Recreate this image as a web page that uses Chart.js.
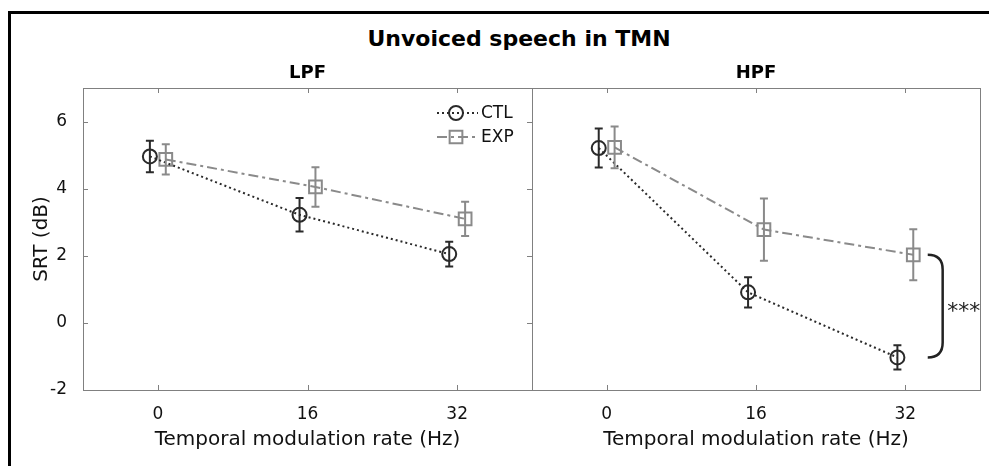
<!DOCTYPE html>
<html>
<head>
<meta charset="utf-8">
<script src="https://cdn.jsdelivr.net/npm/chart.js@4.4.0/dist/chart.umd.min.js"></script>
<style>
  body { margin: 0; background: #fff; }
  #fig { position: relative; width: 989px; height: 466px; overflow: hidden; font-family: "DejaVu Sans", sans-serif; }
  #frame { position: absolute; left: 8px; top: 11px; width: 1000px; height: 500px; border-top: 3px solid #000; border-left: 3px solid #000; }
  #title { position: absolute; left: 0; width: 1038px; top: 28px; line-height: 22px; text-align: center; font-weight: bold; font-size: 22px; color: #000; }
  canvas { position: absolute; top: 0; }
</style>
</head>
<body>
<div id="fig">
  <div id="frame"></div>
  <div id="title">Unvoiced speech in TMN</div>
  <canvas id="lpf" width="540" height="466" style="left:0"></canvas>
  <canvas id="hpf" width="489" height="466" style="left:500px"></canvas>
</div>
<script>
// modulation rates (Hz) and tick labels
const rates = [0, 16, 32];
const xTicks = [0, 16, 32];
const yTicks = [-2, 0, 2, 4, 6];

// SRT means and error bar half-lengths (dB)
const lpfCtl = [4.96, 3.22, 2.05];
const lpfCtlErr = [0.47, 0.50, 0.37];
const lpfExp = [4.87, 4.05, 3.10];
const lpfExpErr = [0.45, 0.59, 0.51];

const hpfCtl = [5.21, 0.91, -1.03];
const hpfCtlErr = [0.58, 0.45, 0.36];
const hpfExp = [5.23, 2.78, 2.03];
const hpfExpErr = [0.62, 0.93, 0.76];

const ctlColor = "#2a2a2a";
const expColor = "#8a8a8a";
const axisColor = "#808080";
const jitter = 0.85; // horizontal offset so the two groups don't overlap
const fontFamily = '"DejaVu Sans", sans-serif';

Chart.defaults.font.family = fontFamily;
Chart.defaults.color = "#111";

function series(label, means, errs, shift, color, dash, style, r) {
  return {
    label: label,
    data: rates.map((x, i) => ({ x: x + shift, y: means[i] })),
    errors: errs,
    showLine: true,
    borderColor: color,
    borderWidth: 2,
    borderDash: dash,
    pointStyle: style,
    pointRadius: r,
    pointHoverRadius: r,
    pointBorderWidth: 2,
    pointBorderColor: color,
    pointBackgroundColor: "rgba(0,0,0,0)",
  };
}

// box + inward ticks, MATLAB style
const boxPlugin = {
  id: "box",
  afterDraw(chart, args, opts) {
    const { ctx, chartArea: a } = chart;
    const xs = chart.scales.x, ys = chart.scales.y;
    ctx.save();
    ctx.strokeStyle = axisColor;
    ctx.lineWidth = 1;
    ctx.strokeRect(Math.round(a.left) + 0.5, Math.round(a.top) + 0.5,
      Math.round(a.right - a.left), Math.round(a.bottom - a.top));
    ctx.beginPath();
    xs.ticks.forEach((t) => {
      const px = Math.round(xs.getPixelForValue(t.value)) + 0.5;
      ctx.moveTo(px, a.bottom); ctx.lineTo(px, a.bottom - 5);
      ctx.moveTo(px, a.top); ctx.lineTo(px, a.top + 5);
    });
    if (opts.yTicks) {
      ys.ticks.forEach((t) => {
        const py = Math.round(ys.getPixelForValue(t.value)) + 0.5;
        ctx.moveTo(a.left, py); ctx.lineTo(a.left + 5, py);
        ctx.moveTo(a.right, py); ctx.lineTo(a.right - 5, py);
      });
    }
    ctx.stroke();
    ctx.restore();
  },
};

const errorBarPlugin = {
  id: "errorBars",
  afterDatasetsDraw(chart) {
    const { ctx } = chart;
    const ys = chart.scales.y;
    chart.data.datasets.forEach((ds, di) => {
      const meta = chart.getDatasetMeta(di);
      ctx.save();
      ctx.strokeStyle = ds.borderColor;
      ctx.lineWidth = 2;
      ctx.beginPath();
      meta.data.forEach((pt, i) => {
        const v = ds.data[i].y, e = ds.errors[i];
        const top = ys.getPixelForValue(v + e), bot = ys.getPixelForValue(v - e);
        ctx.moveTo(pt.x, top); ctx.lineTo(pt.x, bot);
        ctx.moveTo(pt.x - 4, top); ctx.lineTo(pt.x + 4, top);
        ctx.moveTo(pt.x - 4, bot); ctx.lineTo(pt.x + 4, bot);
      });
      ctx.stroke();
      ctx.restore();
    });
  },
};

const legendPlugin = {
  id: "innerLegend",
  afterDraw(chart, args, opts) {
    if (!opts.show) return;
    const { ctx, chartArea: a } = chart;
    chart.data.datasets.forEach((ds, i) => {
      const y = a.top + 25 + i * 24;
      ctx.save();
      ctx.strokeStyle = ds.borderColor;
      ctx.fillStyle = "rgba(0,0,0,0)";
      ctx.lineWidth = 2;
      ctx.setLineDash(ds.borderDash);
      ctx.beginPath();
      ctx.moveTo(a.right - 95, y); ctx.lineTo(a.right - 54, y);
      ctx.stroke();
      ctx.setLineDash([]);
      Chart.helpers.drawPoint(ctx, {
        pointStyle: ds.pointStyle, radius: ds.pointRadius, borderWidth: 2,
      }, a.right - 76, y);
      ctx.fillStyle = "#111";
      ctx.font = "17px " + fontFamily;
      ctx.textBaseline = "middle";
      ctx.fillText(ds.label, a.right - 51, y + 1);
      ctx.restore();
    });
  },
};

const bracketPlugin = {
  id: "bracket",
  afterDraw(chart, args, opts) {
    if (!opts.show) return;
    const { ctx } = chart;
    const xs = chart.scales.x, ys = chart.scales.y;
    const x0 = xs.getPixelForValue(34.4), x1 = xs.getPixelForValue(36.0);
    const y0 = ys.getPixelForValue(hpfExp[2]), y1 = ys.getPixelForValue(hpfCtl[2]);
    const r = x1 - x0;
    ctx.save();
    ctx.strokeStyle = "#222";
    ctx.lineWidth = 2.5;
    ctx.beginPath();
    ctx.moveTo(x0, y0);
    ctx.quadraticCurveTo(x1, y0, x1, y0 + r);
    ctx.lineTo(x1, y1 - r);
    ctx.quadraticCurveTo(x1, y1, x0, y1);
    ctx.stroke();
    ctx.fillStyle = "#222";
    ctx.font = "22px " + fontFamily;
    ctx.textAlign = "center";
    ctx.textBaseline = "middle";
    const my = (y0 + y1) / 2 + 6;
    for (let k = 0; k < 3; k++) ctx.fillText("*", x1 + 10 + k * 11, my);
    ctx.restore();
  },
};

function makeChart(id, title, ctl, ctlErr, exp, expErr, first) {
  return new Chart(document.getElementById(id), {
    type: "scatter",
    data: {
      datasets: [
        series("CTL", ctl, ctlErr, -jitter, ctlColor, [2, 3], "circle", 7),
        series("EXP", exp, expErr, jitter, expColor, [10, 4, 3, 4], "rect", 9),
      ],
    },
    options: {
      responsive: false,
      animation: false,
      events: [],
      devicePixelRatio: 1,
      layout: { autoPadding: false, padding: { left: 0, right: first ? 8 : 9, top: 0, bottom: 0 } },
      plugins: {
        legend: { display: false },
        tooltip: { enabled: false },
        title: {
          display: true, text: title, color: "#000", fullSize: false,
          font: { size: 18, weight: "bold", lineHeight: 1 },
          padding: { top: 64, bottom: 6 },
        },
        box: { yTicks: first },
        innerLegend: { show: first },
        bracket: { show: !first },
      },
      scales: {
        x: {
          type: "linear", min: -8, max: 40,
          afterBuildTicks: (s) => { s.ticks = xTicks.map((v) => ({ value: v })); },
          afterFit: (s) => { s.height = 76; },
          grid: { display: false }, border: { display: false },
          ticks: { padding: 6, color: "#111", font: { size: 17 }, maxRotation: 0, autoSkip: false },
          title: {
            display: true, text: "Temporal modulation rate (Hz)", color: "#111",
            font: { size: 20 }, padding: { top: 0, bottom: 14 },
          },
        },
        y: {
          type: "linear", min: -2, max: 7,
          afterBuildTicks: (s) => { s.ticks = yTicks.map((v) => ({ value: v })); },
          afterFit: (s) => { s.width = first ? 83 : 32; },
          grid: { display: false }, border: { display: false },
          ticks: { display: first, padding: 8, color: "#111", font: { size: 17 } },
          title: {
            display: first, text: "SRT (dB)", color: "#111",
            font: { size: 20 }, padding: { top: 30, bottom: 0 },
          },
        },
      },
    },
    plugins: [errorBarPlugin, boxPlugin, legendPlugin, bracketPlugin],
  });
}

makeChart("lpf", "LPF", lpfCtl, lpfCtlErr, lpfExp, lpfExpErr, true);
makeChart("hpf", "HPF", hpfCtl, hpfCtlErr, hpfExp, hpfExpErr, false);
</script>
</body>
</html>
